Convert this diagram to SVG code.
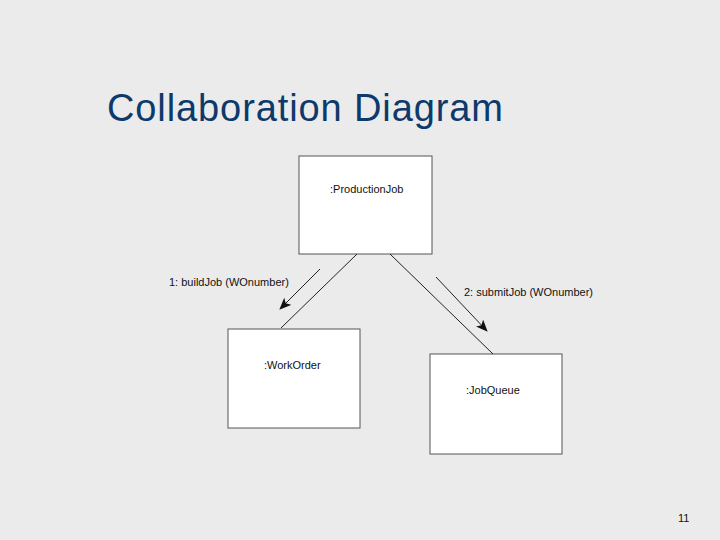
<svg xmlns="http://www.w3.org/2000/svg" width="720" height="540" viewBox="0 0 720 540">
<style>
.box{fill:#fff;stroke:#555;stroke-width:1}
.t{font-family:"Liberation Sans",Arial,sans-serif;font-size:11px;fill:#111}
.ln{stroke:#222;stroke-width:1;fill:none}
</style>
<defs><marker id="ah" markerWidth="12" markerHeight="10" refX="11" refY="5" orient="auto" markerUnits="userSpaceOnUse"><path d="M0,0 L12,5 L0,10 L3,5 Z" fill="#111"/></marker></defs>
<rect width="720" height="540" fill="#ebebeb"/>
<text x="107" y="121" font-family="'Liberation Sans',Arial,sans-serif" font-size="38" textLength="396" lengthAdjust="spacing" fill="#0d3a6b">Collaboration Diagram</text>
<g id="productionjob"><rect class="box" x="299" y="156" width="133" height="98"/><text class="t" x="330" y="193">:ProductionJob</text></g>
<g id="workorder"><rect class="box" x="228" y="329" width="132" height="99"/><text class="t" x="264" y="369">:WorkOrder</text></g>
<g id="jobqueue"><rect class="box" x="430" y="354" width="132" height="100"/><text class="t" x="466" y="394">:JobQueue</text></g>
<g id="connectors">
<line class="ln" x1="357" y1="254" x2="281" y2="328"/>
<line class="ln" x1="390" y1="254" x2="493" y2="354"/>
<line class="ln" x1="320" y1="269" x2="280" y2="309" marker-end="url(#ah)"/>
<line class="ln" x1="436" y1="277" x2="487" y2="331" marker-end="url(#ah)"/>
<text class="t" x="169" y="286">1: buildJob (WOnumber)</text>
<text class="t" x="464" y="296">2: submitJob (WOnumber)</text>
</g>
<text class="t" x="678" y="522" font-size="10">11</text>
</svg>
